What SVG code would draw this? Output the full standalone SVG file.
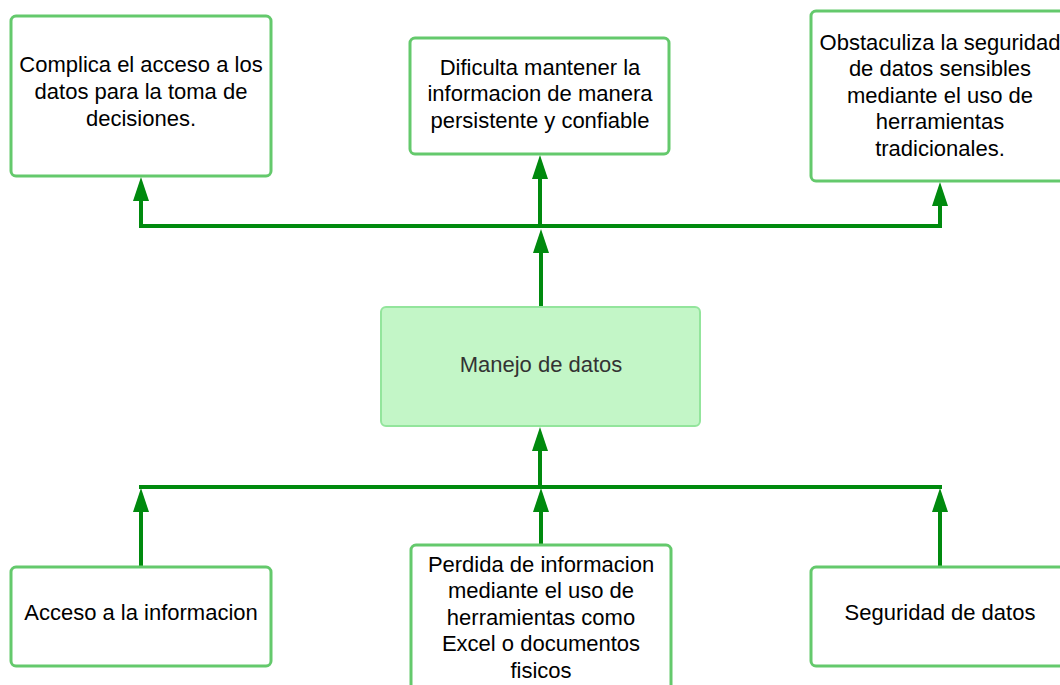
<svg xmlns="http://www.w3.org/2000/svg" width="1060" height="685" viewBox="0 0 1060 685">
<style>
.box{fill:#ffffff;stroke:#64c96c;stroke-width:3}
.center{fill:#c3f6c7;stroke:#93e59c;stroke-width:2}
.t{font-family:"Liberation Sans",Arial,sans-serif;font-size:22px;fill:#000;text-anchor:middle}
.tc{font-family:"Liberation Sans",Arial,sans-serif;font-size:22px;fill:#333;text-anchor:middle}
.c{stroke:#008a0e;stroke-width:4;fill:none}
.h{stroke:#008a0e;stroke-width:4;fill:none;stroke-linecap:square}
</style>
<defs>
<marker id="arr" viewBox="0 0 24 16" refX="4" refY="8" markerWidth="24" markerHeight="16" markerUnits="userSpaceOnUse" orient="auto">
<path d="M0,0 L24,8 L0,16 z" fill="#008a0e"/>
</marker>
</defs>
<rect width="1060" height="685" fill="#ffffff"/>
<g id="connectors">
<line class="h" x1="141" y1="226" x2="940" y2="226"/>
<line class="c" x1="141" y1="226" x2="141" y2="197" marker-end="url(#arr)"/>
<line class="c" x1="540" y1="226" x2="540" y2="175" marker-end="url(#arr)"/>
<line class="c" x1="940" y1="226" x2="940" y2="202" marker-end="url(#arr)"/>
<line class="c" x1="541" y1="307" x2="541" y2="249" marker-end="url(#arr)"/>
<line class="h" x1="141" y1="487" x2="940" y2="487"/>
<line class="c" x1="141" y1="567" x2="141" y2="508" marker-end="url(#arr)"/>
<line class="c" x1="541" y1="545" x2="541" y2="508" marker-end="url(#arr)"/>
<line class="c" x1="940" y1="567" x2="940" y2="508" marker-end="url(#arr)"/>
<line class="c" x1="540" y1="487" x2="540" y2="447" marker-end="url(#arr)"/>
</g>
<g id="n-complica">
<rect class="box" x="11" y="16" width="260" height="160" rx="5"/>
<text class="t" x="141" y="72">Complica el acceso a los</text>
<text class="t" x="141" y="99">datos para la toma de</text>
<text class="t" x="141" y="126">decisiones.</text>
</g>
<g id="n-dificulta">
<rect class="box" x="410" y="38" width="259" height="116" rx="5"/>
<text class="t" x="540" y="75">Dificulta mantener la</text>
<text class="t" x="540" y="101">informacion de manera</text>
<text class="t" x="540" y="128">persistente y confiable</text>
</g>
<g id="n-obstaculiza">
<rect class="box" x="811" y="11" width="270" height="170" rx="5"/>
<text class="t" x="940" y="50">Obstaculiza la seguridad</text>
<text class="t" x="940" y="76">de datos sensibles</text>
<text class="t" x="940" y="103">mediante el uso de</text>
<text class="t" x="940" y="129">herramientas</text>
<text class="t" x="940" y="156">tradicionales.</text>
</g>
<g id="n-manejo">
<rect class="center" x="381" y="307" width="319" height="119" rx="5"/>
<text class="tc" x="541" y="372">Manejo de datos</text>
</g>
<g id="n-acceso">
<rect class="box" x="11" y="567" width="260" height="99" rx="5"/>
<text class="t" x="141" y="620">Acceso a la informacion</text>
</g>
<g id="n-perdida">
<rect class="box" x="411" y="545" width="260" height="160" rx="5"/>
<text class="t" x="541" y="572">Perdida de informacion</text>
<text class="t" x="541" y="598">mediante el uso de</text>
<text class="t" x="541" y="625">herramientas como</text>
<text class="t" x="541" y="651">Excel o documentos</text>
<text class="t" x="541" y="678">fisicos</text>
</g>
<g id="n-seguridad">
<rect class="box" x="811" y="567" width="270" height="99" rx="5"/>
<text class="t" x="940" y="620">Seguridad de datos</text>
</g>
</svg>
